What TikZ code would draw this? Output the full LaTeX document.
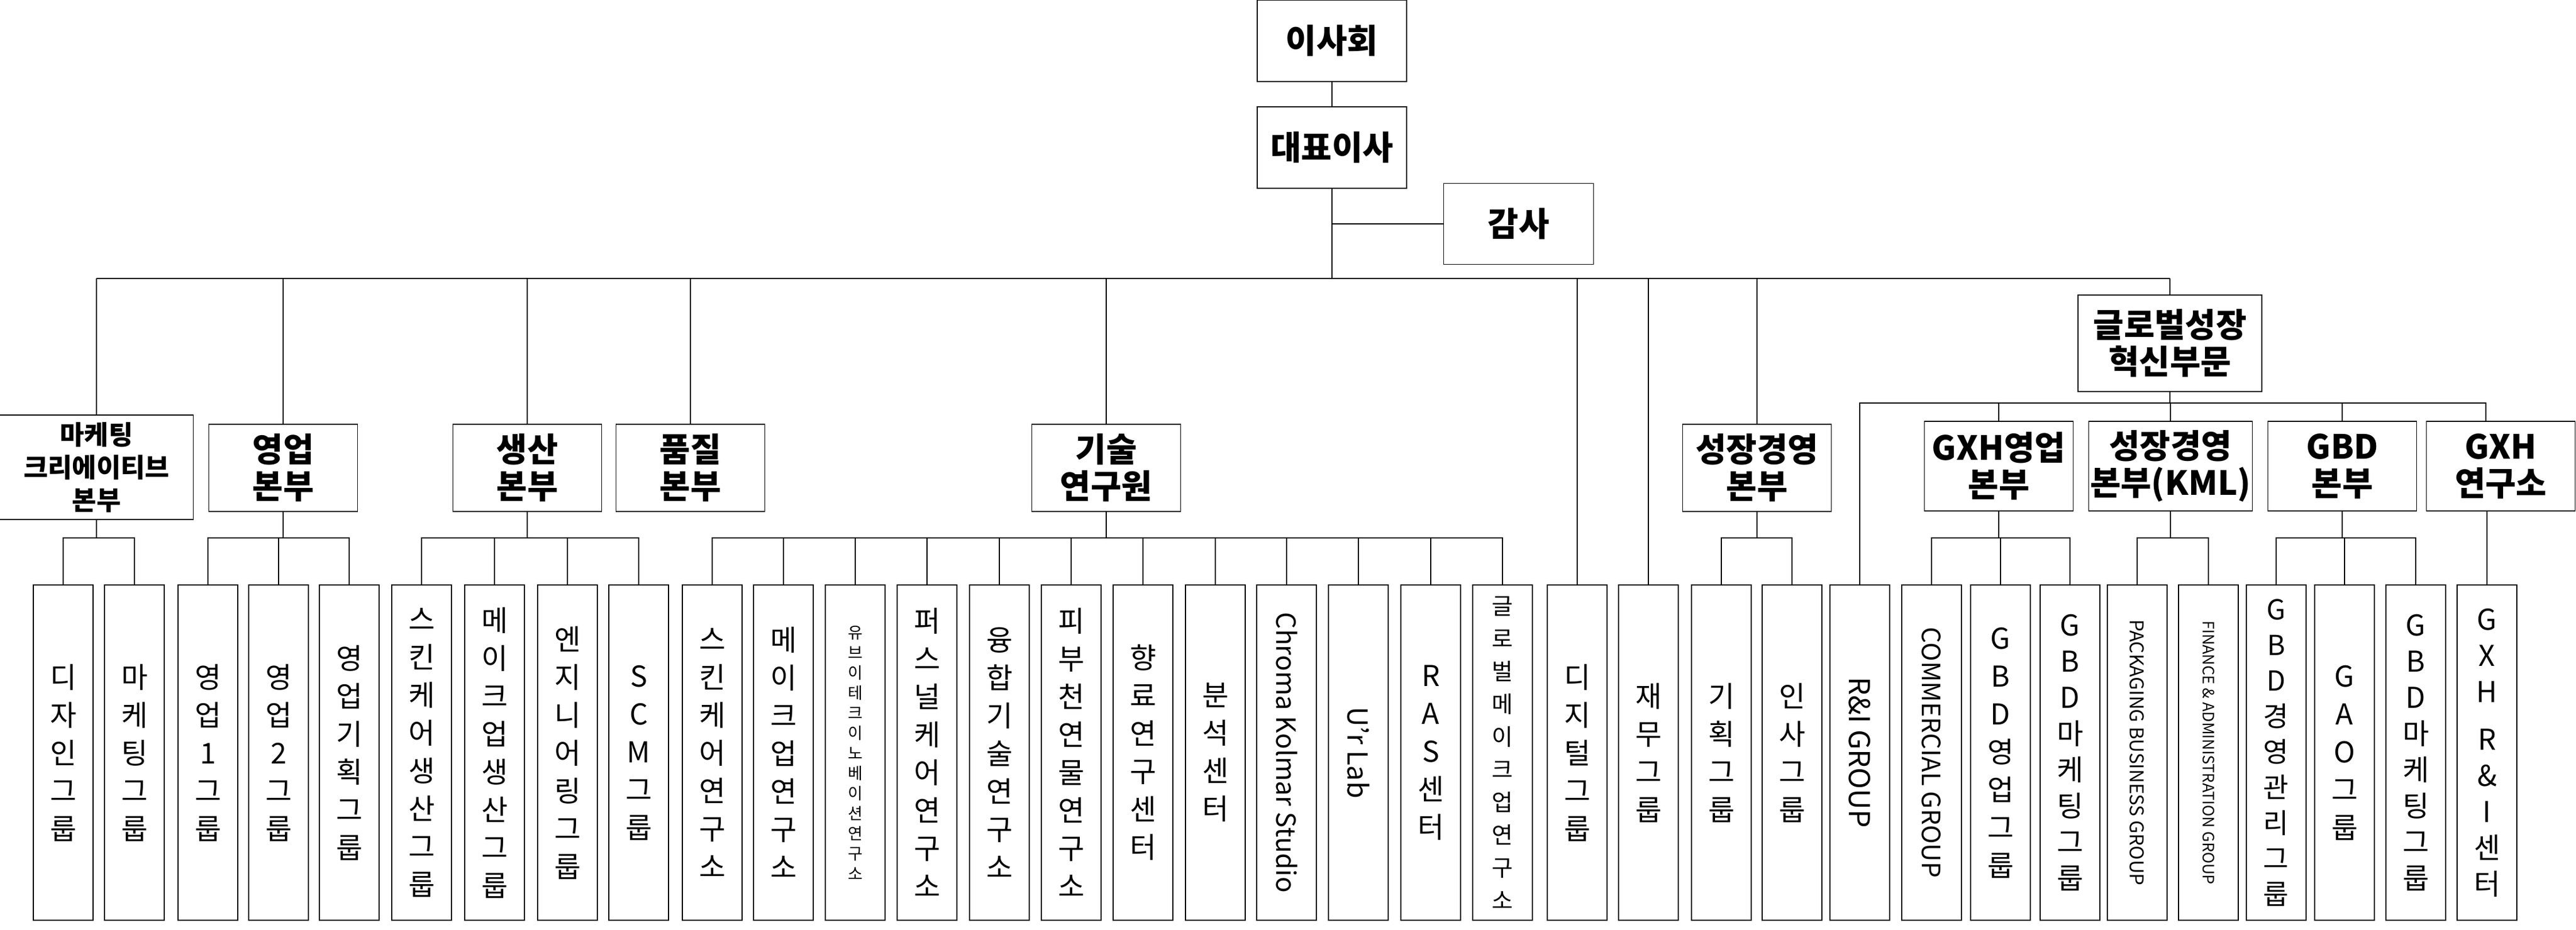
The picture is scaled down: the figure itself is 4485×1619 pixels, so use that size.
\documentclass[tikz,border=0pt]{standalone}
\usepackage{fontspec}
\setmainfont{Noto Sans CJK KR}
\begin{document}
\begin{tikzpicture}[x=1pt,y=-1pt,line width=1.6pt,
  leaf/.style={draw,minimum width=104pt,minimum height=584pt,inner sep=0pt,align=center,font=\fontsize{50}{66}\selectfont},
  hd/.style={draw,minimum width=259pt,minimum height=152pt,inner sep=0pt,align=center,font=\bfseries\fontsize{58}{64}\selectfont}]
\useasboundingbox (0,0) rectangle (4485,1619);
\coordinate (bus) at (0,485);
\coordinate (sb) at (0,937);
\coordinate (gb) at (0,702);
% top
\node[hd,minimum width=260pt,minimum height=142pt] (isa) at (2319,71) {이사회};
\node[hd,minimum width=260pt,minimum height=142pt] (ceo) at (2319,257) {대표이사};
\node[hd,minimum width=261pt,minimum height=141pt] (gamsa) at (2644,390) {감사};
% heads
\node[hd,minimum width=337pt,minimum height=182pt,font=\bfseries\fontsize{46}{57}\selectfont] (mk) at (168,814) {마케팅\\크리에이티브\\본부};
\node[hd] (yeong) at (493,815) {영업\\본부};
\node[hd] (saeng) at (918,815) {생산\\본부};
\node[hd] (pum) at (1202,815) {품질\\본부};
\node[hd] (gisul) at (1926,815) {기술\\연구원};
\node[hd] (sj) at (3059,815) {성장경영\\본부};
\node[hd,minimum width=320pt,minimum height=168pt] (glob) at (3778,598) {글로벌성장\\혁신부문};
\node[hd,minimum height=156pt] (gxhy) at (3480,812) {GXH영업\\본부};
\node[hd,minimum width=285pt,minimum height=156pt] (kml) at (3779,812) {성장경영\\본부(KML)};
\node[hd,minimum height=156pt] (gbd) at (4078,812) {GBD\\본부};
\node[hd,minimum height=156pt] (gxhl) at (4354,812) {GXH\\연구소};
% leaves
\node[leaf] (l1) at (110,1311) {디\\자\\인\\그\\룹};
\node[leaf] (l2) at (234,1311) {마\\케\\팅\\그\\룹};
\node[leaf] (l3) at (362,1311) {영\\업\\1\\그\\룹};
\node[leaf] (l4) at (485,1311) {영\\업\\2\\그\\룹};
\node[leaf] (l5) at (608,1311) {영\\업\\기\\획\\그\\룹};
\node[leaf] (l6) at (734,1311) {스\\킨\\케\\어\\생\\산\\그\\룹};
\node[leaf] (l7) at (861,1311) {메\\이\\크\\업\\생\\산\\그\\룹};
\node[leaf] (l8) at (988,1311) {엔\\지\\니\\어\\링\\그\\룹};
\node[leaf] (l9) at (1112,1311) {S\\C\\M\\그\\룹};
\node[leaf] (l10) at (1240,1311) {스\\킨\\케\\어\\연\\구\\소};
\node[leaf] (l11) at (1364,1311) {메\\이\\크\\업\\연\\구\\소};
\node[leaf,font=\fontsize{28}{35}\selectfont] (l12) at (1489,1311) {유\\브\\이\\테\\크\\이\\노\\베\\이\\션\\연\\구\\소};
\node[leaf] (l13) at (1614,1311) {퍼\\스\\널\\케\\어\\연\\구\\소};
\node[leaf] (l14) at (1740,1311) {융\\합\\기\\술\\연\\구\\소};
\node[leaf] (l15) at (1865,1311) {피\\부\\천\\연\\물\\연\\구\\소};
\node[leaf] (l16) at (1990,1311) {향\\료\\연\\구\\센\\터};
\node[leaf] (l17) at (2116,1311) {분\\석\\센\\터};
\node[leaf,font=\fontsize{46}{50}\selectfont] (l18) at (2240,1311) {\rotatebox{-90}{Chroma Kolmar Studio}};
\node[leaf,font=\fontsize{48}{50}\selectfont] (l19) at (2365,1311) {\rotatebox{-90}{U'r Lab}};
\node[leaf] (l20) at (2491,1311) {R\\A\\S\\센\\터};
\node[leaf,font=\fontsize{40}{57}\selectfont] (l21) at (2616,1311) {글\\로\\벌\\메\\이\\크\\업\\연\\구\\소};
\node[leaf] (l22) at (2746,1311) {디\\지\\털\\그\\룹};
\node[leaf] (l23) at (2870,1311) {재\\무\\그\\룹};
\node[leaf] (l24) at (2997,1311) {기\\획\\그\\룹};
\node[leaf] (l25) at (3120,1311) {인\\사\\그\\룹};
\node[leaf,font=\fontsize{50}{50}\selectfont] (l26) at (3238,1311) {\rotatebox{-90}{R\&I GROUP}};
\node[leaf,font=\fontsize{44}{50}\selectfont] (l27) at (3363,1311) {\rotatebox{-90}{COMMERCIAL GROUP}};
\node[leaf] (l28) at (3483,1311) {G\\B\\D\\영\\업\\그\\룹};
\node[leaf,font=\fontsize{50}{63}\selectfont] (l29) at (3604,1311) {G\\B\\D\\마\\케\\팅\\그\\룹};
\node[leaf,font=\fontsize{33}{40}\selectfont] (l30) at (3721,1311) {\rotatebox{-90}{PACKAGING BUSINESS GROUP}};
\node[leaf,font=\fontsize{27}{40}\selectfont] (l31) at (3845,1311) {\rotatebox{-90}{FINANCE \& ADMINISTRATION GROUP}};
\node[leaf,font=\fontsize{48}{62}\selectfont] (l32) at (3963,1311) {G\\B\\D\\경\\영\\관\\리\\그\\룹};
\node[leaf] (l33) at (4082,1311) {G\\A\\O\\그\\룹};
\node[leaf,font=\fontsize{50}{63}\selectfont] (l34) at (4206,1311) {G\\B\\D\\마\\케\\팅\\그\\룹};
\node[leaf,font=\fontsize{50}{63}\selectfont] (l35) at (4330,1311) {G\\X\\H\\[20pt]R\\\&\\I\\센\\터};
% top connectors
\draw (isa) -- (ceo);
\draw (ceo.south) -- (ceo.south |- bus);
\draw (gamsa.west) -- (gamsa.west -| ceo.south);
\draw (mk.north |- bus) -- (glob.north |- bus);
\foreach \n in {mk,yeong,saeng,pum,gisul,sj,glob} \draw (\n.north) -- (\n.north |- bus);
\foreach \n in {l22,l23} \draw (\n.north) -- (\n.north |- bus);
% sub buses
\draw (mk.south) -- (mk.south |- sb); \draw (l1.north) |- (l2.north |- sb) -- (l2.north);
\draw (yeong.south) -- (yeong.south |- sb); \draw (l3.north) |- (l5.north |- sb) -- (l5.north); \draw (l4.north) -- (l4.north |- sb);
\draw (saeng.south) -- (saeng.south |- sb); \draw (l6.north) |- (l9.north |- sb) -- (l9.north);
\foreach \n in {l7,l8} \draw (\n.north) -- (\n.north |- sb);
\draw (gisul.south) -- (gisul.south |- sb); \draw (l10.north) |- (l21.north |- sb) -- (l21.north);
\foreach \n in {l11,l12,l13,l14,l15,l16,l17,l18,l19,l20} \draw (\n.north) -- (\n.north |- sb);
\draw (sj.south) -- (sj.south |- sb); \draw (l24.north) |- (l25.north |- sb) -- (l25.north);
% global
\coordinate (g35) at ([xshift=-26pt]gxhl.north);
\draw (glob.south) -- (glob.south |- gb);
\draw (l26.north) |- (g35 |- gb) -- (g35);
\foreach \n in {gxhy,kml,gbd} \draw (\n.north) -- (\n.north |- gb);
\draw (gxhy.south) -- (gxhy.south |- sb); \draw (l27.north) |- (l29.north |- sb) -- (l29.north); \draw (l28.north) -- (l28.north |- sb);
\draw (kml.south) -- (kml.south |- sb); \draw (l30.north) |- (l31.north |- sb) -- (l31.north);
\draw (gbd.south) -- (gbd.south |- sb); \draw (l32.north) |- (l34.north |- sb) -- (l34.north); \draw (l33.north) -- (l33.north |- sb);
\draw (l35.north) -- (l35.north |- gxhl.south);
\end{tikzpicture}
\end{document}
